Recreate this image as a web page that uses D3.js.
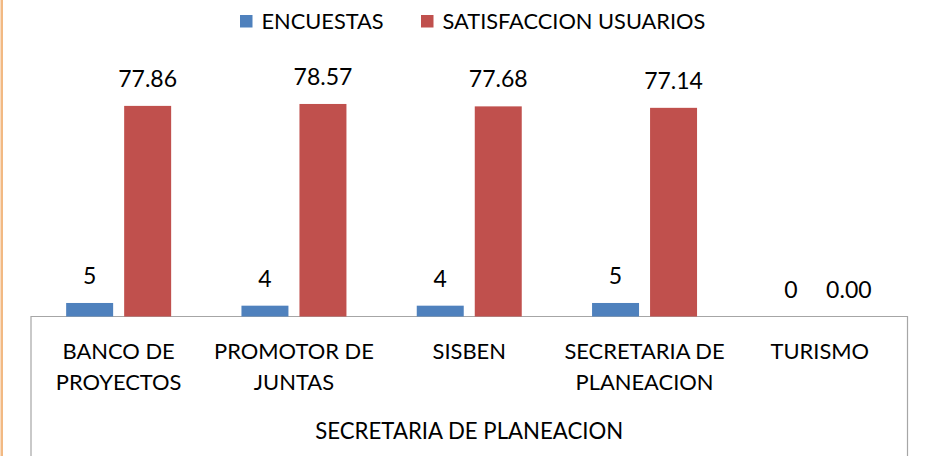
<!DOCTYPE html>
<html>
<head>
<meta charset="utf-8">
<script src="https://cdn.jsdelivr.net/npm/d3@7"></script>
<style>
  html, body { margin: 0; padding: 0; background: #fff; }
  svg { display: block; }
  text { font-family: Lato, "Open Sans", sans-serif; fill: #000; }
</style>
</head>
<body>
<svg id="chart" width="925" height="456"></svg>
<script>
// ---- data ----
const categories = [
  ["BANCO DE", "PROYECTOS"],
  ["PROMOTOR DE", "JUNTAS"],
  ["SISBEN"],
  ["SECRETARIA DE", "PLANEACION"],
  ["TURISMO"]
];
const seriesNames = ["ENCUESTAS", "SATISFACCION USUARIOS"];
const encuestas = [5, 4, 4, 5, 0];
const satisfaccion = [77.86, 78.57, 77.68, 77.14, 0.00];
const labelFormats = [d3.format("d"), d3.format(".2f")];
const axisTitle = "SECRETARIA DE PLANEACION";
const colors = ["#4F81BD", "#C0504D"];

// ---- layout ----
const svg = d3.select("#chart");
const W = 925, H = 456;
const plot = { left: 31, right: 907.5, base: 316.5 };

const catKeys = categories.map(c => c.join(" "));
const x0 = d3.scaleBand().domain(catKeys).range([plot.left, plot.right]).paddingInner(0).paddingOuter(0);
const x1 = d3.scaleBand().domain(seriesNames).range([0, x0.bandwidth()]).paddingInner(0.19).paddingOuter(0.606);
const y = d3.scaleLinear().domain([0, 100]).range([plot.base, plot.base - 270.5]);

const values = [encuestas, satisfaccion];
const rows = catKeys.map((k, i) => ({ key: k, lines: categories[i], vals: seriesNames.map((s, j) => ({ s, j, v: values[j][i] })) }));

// left orange frame line
svg.append("rect").attr("x", 0.5).attr("y", 0).attr("width", 2.5).attr("height", H).attr("fill", "#F2B983");

// box (category axis area)
svg.append("path")
  .attr("d", `M${plot.left},${H} V${plot.base} H${plot.right} V${H}`)
  .attr("fill", "none").attr("stroke", "#A6A6A6").attr("stroke-width", 1.2);

// bars
const g = svg.append("g").selectAll("g").data(rows).join("g")
  .attr("transform", d => `translate(${x0(d.key)},0)`);

g.selectAll("rect").data(d => d.vals).join("rect")
  .attr("x", d => x1(d.s))
  .attr("width", x1.bandwidth())
  .attr("y", d => y(d.v))
  .attr("height", d => Math.max(0, plot.base - y(d.v)))
  .attr("fill", d => colors[d.j]);

g.selectAll("text.val").data(d => d.vals).join("text")
  .attr("class", "val")
  .attr("x", d => x1(d.s) + x1.bandwidth() / 2)
  .attr("y", d => y(d.v) - 19)
  .attr("text-anchor", "middle")
  .attr("font-size", 23)
  .text(d => labelFormats[d.j](d.v));

// category labels
g.append("text")
  .attr("text-anchor", "middle")
  .attr("font-size", 21.9)
  .selectAll("tspan").data(d => d.lines).join("tspan")
  .attr("x", x0.bandwidth() / 2)
  .attr("y", (d, i) => 359 + i * 30.5)
  .text(d => d);

// axis title
svg.append("text")
  .attr("x", (plot.left + plot.right) / 2)
  .attr("y", 438.5)
  .attr("text-anchor", "middle")
  .attr("font-size", 22.2)
  .text(axisTitle);

// legend
const legendX = [240, 421];
const lg = svg.append("g").selectAll("g").data(seriesNames).join("g")
  .attr("transform", (d, i) => `translate(${legendX[i]},0)`);
lg.append("rect").attr("x", 0).attr("y", 15).attr("width", 12.5).attr("height", 12.5)
  .attr("fill", (d, i) => colors[i]);
lg.append("text").attr("x", 21.5).attr("y", 28.5).attr("font-size", 21.8).text(d => d);
</script>
</body>
</html>
